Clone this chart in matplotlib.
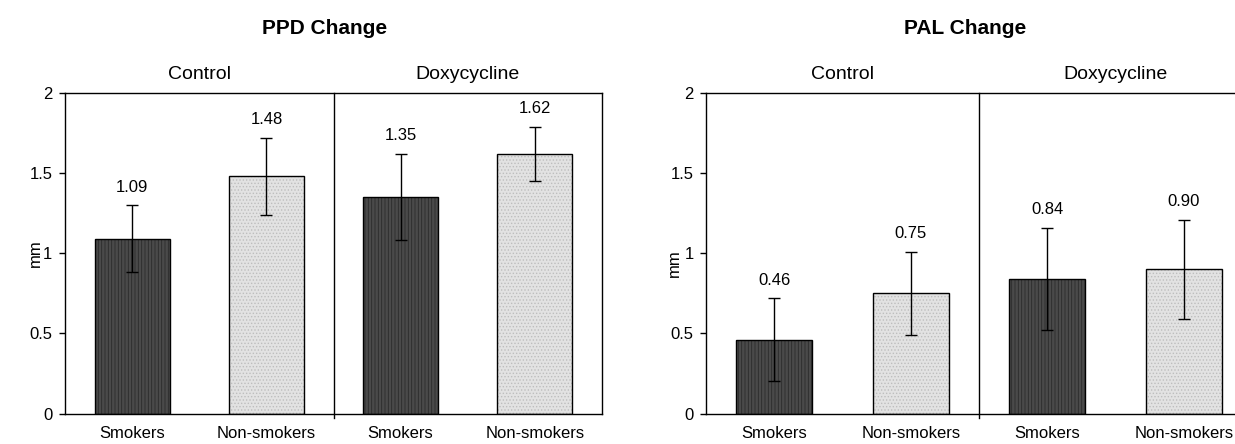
import numpy as np
import matplotlib.pyplot as plt

plt.rcParams['font.family'] = ['Liberation Sans', 'DejaVu Sans']
plt.rcParams['hatch.linewidth'] = 0.6

groups = ['Control', 'Doxycycline']
categories = ['Smokers', 'Non-smokers', 'Smokers', 'Non-smokers']

ppd_means = [1.09, 1.48, 1.35, 1.62]
ppd_err = [0.21, 0.24, 0.27, 0.17]

pal_means = [0.46, 0.75, 0.84, 0.90]
pal_err = [0.26, 0.26, 0.32, 0.31]

titles = ['PPD Change', 'PAL Change']

DARK = ('#4a4a4a', '#2b2b2b', '|||||')
LIGHT = ('#e2e2e2', '#bdbdbd', '.....')


def draw_panel(ax, means, errs, label_xy):
    x = np.arange(len(categories))
    width = 0.56
    styles = [DARK, LIGHT, DARK, LIGHT]
    for xi, m, (fc, hc, hatch) in zip(x, means, styles):
        # fill + texture, then a separate black outline
        ax.bar(xi, m, width, color=fc, edgecolor=hc, hatch=hatch, linewidth=0, zorder=2)
        ax.bar(xi, m, width, fill=False, edgecolor='black', linewidth=1.0, zorder=3)
    ax.errorbar(x, means, yerr=errs, fmt='none', ecolor='black', elinewidth=1.0,
                capsize=4, capthick=1.0, zorder=4)
    for xi, m, e in zip(x, means, errs):
        ax.annotate(f'{m:.2f}', (xi, m + e), xytext=(0, 13), textcoords='offset points',
                    ha='center', va='center', fontsize=12)

    # divider between the two treatment groups
    ax.plot([1.5, 1.5], [-0.03, 2], color='black', linewidth=1.0, clip_on=False, zorder=5)
    for gi, g in enumerate(groups):
        ax.annotate(g, (gi * 2 + 0.5, 1), xycoords=('data', 'axes fraction'),
                    xytext=(0, 13.5), textcoords='offset points',
                    ha='center', va='center', fontsize=14)

    ax.set_xlim(-0.5, 3.5)
    ax.set_ylim(0, 2)
    ax.set_yticks([0, 0.5, 1, 1.5, 2])
    ax.set_yticklabels(['0', '0.5', '1', '1.5', '2'])
    ax.set_xticks(x)
    ax.set_xticklabels(categories)
    ax.tick_params(axis='x', length=0, pad=9, labelsize=12)
    ax.tick_params(axis='y', length=4, width=1, pad=5, labelsize=12)
    ax.set_ylabel('mm', fontsize=12)
    ax.yaxis.set_label_coords(*label_xy)
    for s in ax.spines.values():
        s.set_linewidth(1.0)


fig = plt.figure(figsize=(12.35, 4.44), dpi=100)
W, H = 1235, 444
ax1 = fig.add_axes([65 / W, (H - 413.5) / H, (602 - 65) / W, 320.5 / H])
ax2 = fig.add_axes([706 / W, (H - 413.5) / H, (1252 - 706) / W, 320.5 / H])

draw_panel(ax1, ppd_means, ppd_err, (-0.041, 0.5))
draw_panel(ax2, pal_means, pal_err, (-0.045, 0.47))

fig.text(325 / W, 1 - 28 / H, titles[0], ha='center', va='center', fontsize=15, fontweight='bold')
fig.text(965 / W, 1 - 28 / H, titles[1], ha='center', va='center', fontsize=15, fontweight='bold')

fig.savefig('out.png', dpi=100)
